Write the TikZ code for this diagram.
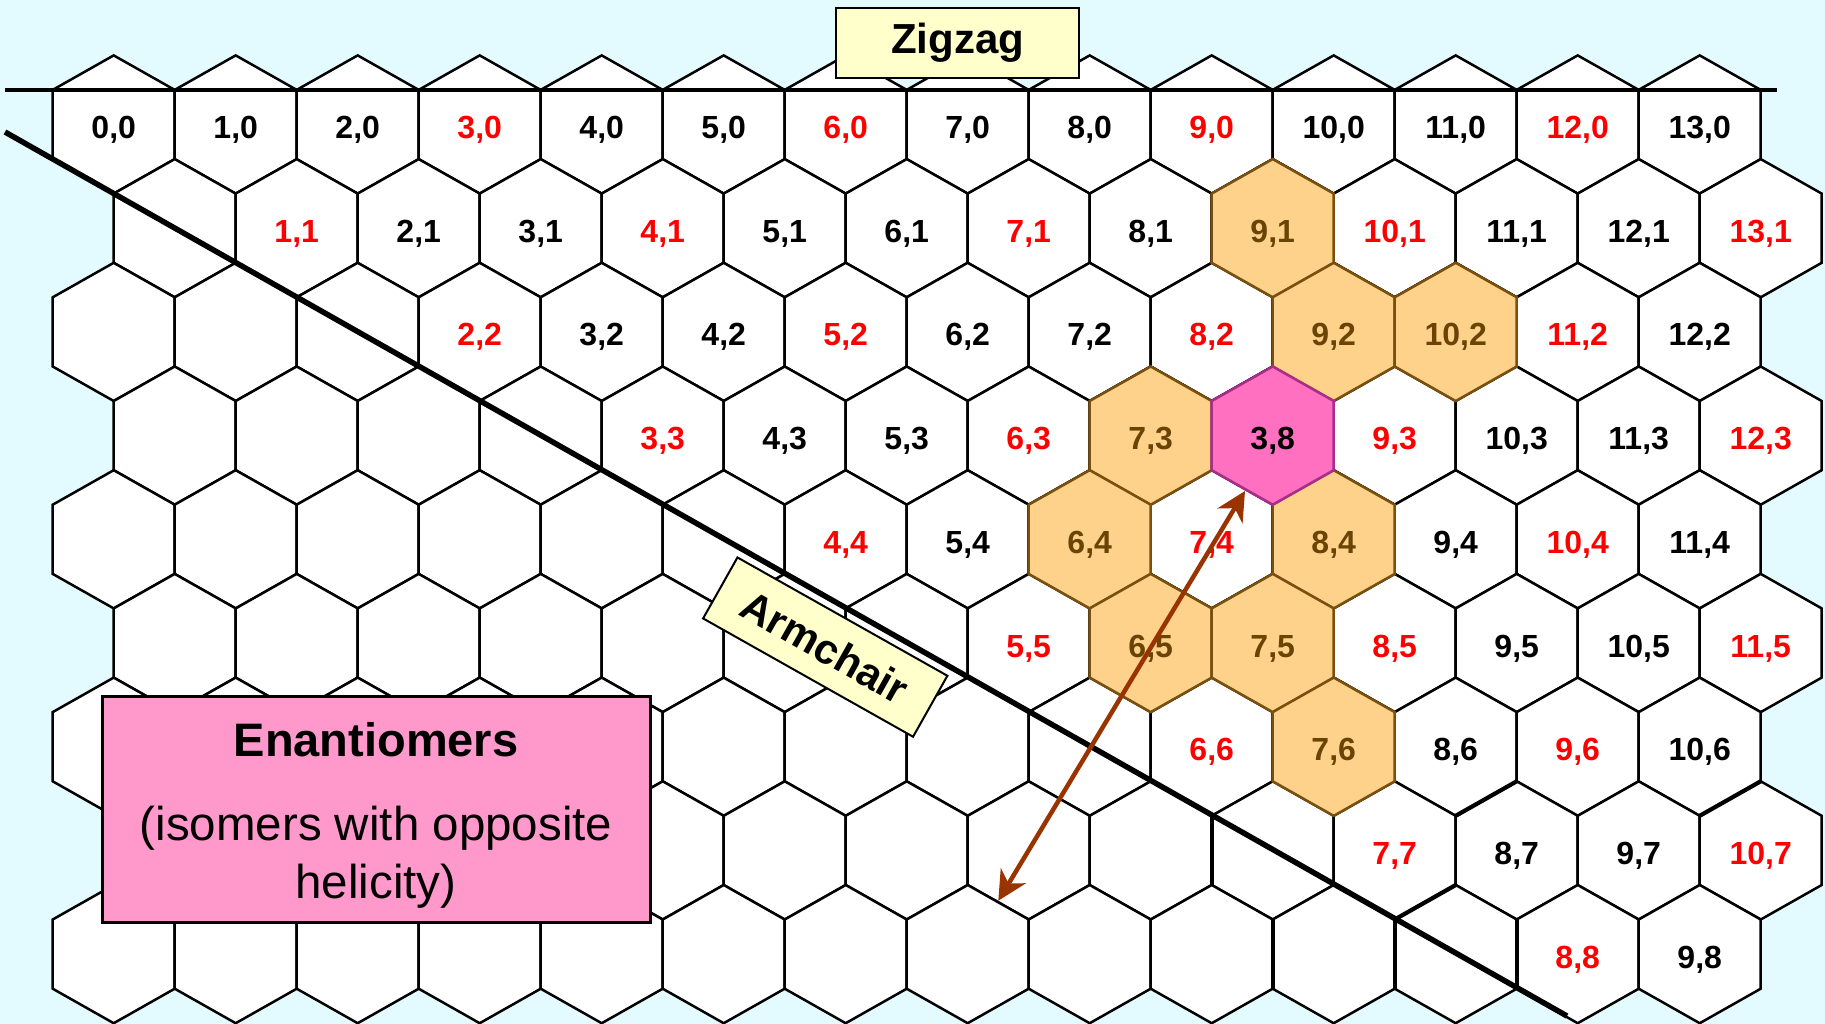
\documentclass[tikz,border=0pt]{standalone}
\usepackage{fontspec}
\setmainfont{Liberation Sans}
\usetikzlibrary{arrows.meta}
\definecolor{bgcyan}{RGB}{227,250,255}
\definecolor{hexorange}{RGB}{255,210,140}
\definecolor{hexorangeline}{RGB}{122,80,15}
\definecolor{orangetext}{RGB}{105,68,5}
\definecolor{hexpink}{RGB}{255,112,192}
\definecolor{hexpinkline}{RGB}{170,45,140}
\definecolor{boxyellow}{RGB}{255,255,204}
\definecolor{boxpink}{RGB}{255,153,204}
\definecolor{arrowbrown}{RGB}{153,51,0}
\definecolor{labelred}{RGB}{255,0,0}
\newcommand{\myhex}[3]{\path[#1] ({#2-61},{#3-34.6}) -- (#2,{#3-69.1}) -- ({#2+61},{#3-34.6}) -- ({#2+61},{#3+34.6}) -- (#2,{#3+69.1}) -- ({#2-61},{#3+34.6}) -- cycle;}
\tikzset{
  hexcell/.style={draw=black, fill=white, line width=2.5pt, line join=miter},
  orangecell/.style={draw=hexorangeline, fill=hexorange, line width=2.5pt},
  pinkcell/.style={draw=hexpinkline, fill=hexpink, line width=2.5pt},
  cellnum/.style={font=\bfseries\fontsize{32}{32}\selectfont, anchor=base, inner sep=0pt},
  axisline/.style={draw=black, line width=4.5pt},
  thickedge/.style={draw=black, line width=4.2pt},
  tagbox/.style={draw=black, fill=boxyellow, line width=2pt, inner sep=0pt},
  tagtext/.style={font=\bfseries\fontsize{42}{42}\selectfont, anchor=base, inner sep=0pt},
  notebox/.style={draw=black, fill=boxpink, line width=3pt, inner sep=0pt, minimum width=548pt, minimum height=226pt},
  notetitle/.style={font=\bfseries\fontsize{47}{47}\selectfont, anchor=base, inner sep=0pt},
  notetext/.style={font=\fontsize{47.5}{47.5}\selectfont, anchor=base, inner sep=0pt},
  linkarrow/.style={draw=arrowbrown, line width=4.5pt, {Stealth[length=29pt,width=29pt,inset=9pt]}-{Stealth[length=29pt,width=29pt,inset=9pt]}}
}
\foreach \n/\m in {9/1,9/2,10/2,7/3,6/4,8/4,6/5,7/5,7/6}{\expandafter\gdef\csname oc-\n-\m\endcsname{}}
\expandafter\gdef\csname pc-8-3\endcsname{}
\begin{document}
\begin{tikzpicture}[x=1pt,y=-1pt]
\fill[bgcyan] (0,0) rectangle (1825,1024);
\useasboundingbox (0,0) rectangle (1825,1024);
% white grid
\foreach \m in {0,...,8}{
  \foreach \k in {0,...,13}{
    \pgfmathsetmacro{\cx}{113.7+122*\k+61*mod(\m,2)}
    \pgfmathsetmacro{\cy}{124.5+103.7*\m}
    \myhex{hexcell}{\cx}{\cy}
  }
}
% coloured cells
\foreach \n/\m in {9/1,9/2,10/2,7/3,6/4,8/4,6/5,7/5,7/6}{
  \pgfmathsetmacro{\cx}{113.7+122*(\n+\m/2)}
  \pgfmathsetmacro{\cy}{124.5+103.7*\m}
  \myhex{orangecell}{\cx}{\cy}
}
\pgfmathsetmacro{\cx}{113.7+122*9.5}
\pgfmathsetmacro{\cy}{124.5+103.7*3}
\myhex{pinkcell}{\cx}{\cy}
% thicker edges near the armchair line
\draw[thickedge] (1211.7,815.8) -- (1211.7,885);
\draw[thickedge] (1272.7,919.5) -- (1272.7,988.7);
\draw[thickedge] (1394.7,919.5) -- (1394.7,988.7);
\draw[thickedge] (1516.7,919.5) -- (1516.7,988.7);
\draw[thickedge] (1394.7,919.5) -- (1455.7,885);
\draw[thickedge] (1455.7,815.8) -- (1516.7,781.3);
\draw[thickedge] (1699.7,815.8) -- (1760.7,781.3);
% zigzag and armchair lines
\coordinate (zzL) at (5,90);
\coordinate (zzR) at (1777,90);
\draw[axisline] (zzL) -- (zzR);
\coordinate (acA) at (5,132);
\coordinate (acB) at (1567,1016);
\draw[axisline, line width=5.5pt] (acA) -- (acB);
% labels
\foreach \m/\lo/\hi in {0/0/13,1/1/13,2/2/12,3/3/12,4/4/11,5/5/11,6/6/10,7/7/10,8/8/9}{
  \foreach \n in {\lo,...,\hi}{
    \pgfmathsetmacro{\cx}{113.7+122*(\n+\m/2)}
    \pgfmathsetmacro{\cy}{124.5+103.7*\m+14}
    \pgfmathtruncatemacro{\rem}{mod(\n-\m,3)+(\n==0)}
    \ifcsname oc-\n-\m\endcsname
      \def\lblcol{orangetext}\def\lbltxt{\n,\m}%
    \else\ifcsname pc-\n-\m\endcsname
      \def\lblcol{black}\def\lbltxt{\m,\n}%
    \else
      \ifnum\rem=0 \def\lblcol{labelred}\else\def\lblcol{black}\fi
      \def\lbltxt{\n,\m}%
    \fi\fi
    \node[cellnum, text=\lblcol] (L-\n-\m) at (\cx,\cy) {\lbltxt};
  }
}
% Zigzag tag
\node[tagbox, minimum width=243pt, minimum height=70pt] (zigbox) at (957.5,43) {};
\node[tagtext] (zigtext) at (957.5,54) {Zigzag};
% Armchair tag
\node[tagbox, minimum width=241pt, minimum height=70pt, rotate=-29.4, font=\bfseries\fontsize{42}{42}\selectfont] (armbox) at (825.25,647.1) {Armchair};
% Enantiomers note
\node[notebox] (enant) at (376,809) {};
\node[notetitle] (enanttitle) at (376,756) {Enantiomers};
\node[notetext] (enantline1) at (376,840.6) {(isomers with opposite};
\node[notetext] (enantline2) at (376,898.8) {helicity)};
% arrow
\coordinate (arrA) at (1245,491);
\coordinate (arrB) at (998.3,900.7);
\draw[linkarrow] (arrB) -- (arrA);
\end{tikzpicture}
\end{document}
